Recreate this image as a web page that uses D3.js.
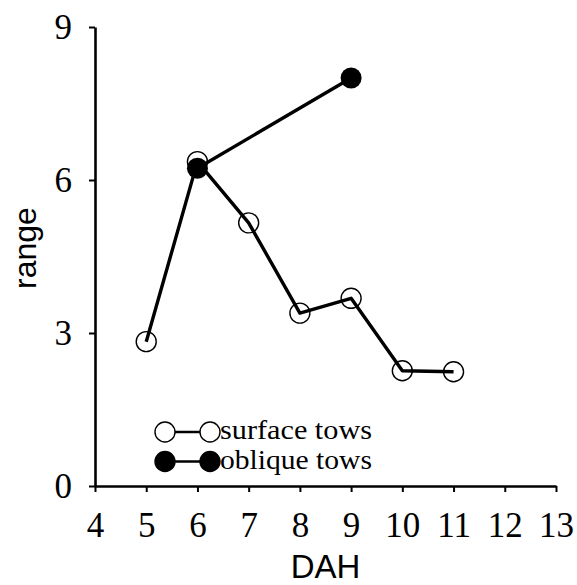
<!DOCTYPE html>
<html>
<head>
<meta charset="utf-8">
<script src="https://cdn.jsdelivr.net/npm/d3@7"></script>
<style>
  html, body { margin: 0; padding: 0; background: #fff; }
  svg { display: block; }
</style>
</head>
<body>
<svg id="chart" width="577" height="585"></svg>
<script>
// Range by days after hatching (DAH), surface vs oblique tows
const dah = [5, 6, 7, 8, 9, 10, 11];
const surfaceRange = [2.83, 6.36, 5.16, 3.39, 3.68, 2.26, 2.24];
const obliqueDah = [6, 9];
const obliqueRange = [6.23, 8.0];
const xTicks = [4, 5, 6, 7, 8, 9, 10, 11, 12, 13];
const yTicks = [0, 3, 6, 9];
const legendLabels = ["surface tows", "oblique tows"];

const svg = d3.select("#chart");
const x = d3.scaleLinear().domain([4, 13]).range([95, 556]);
const y = d3.scaleLinear().domain([0, 9]).range([486, 27]);

const serif = "'Liberation Serif', 'Times New Roman', serif";
const sans = "'Liberation Sans', Arial, sans-serif";

// Axes
const xAxis = svg.append("g")
  .attr("transform", `translate(0,${y(0)})`)
  .call(d3.axisBottom(x).tickValues(xTicks).tickSizeInner(6).tickSizeOuter(0).tickPadding(20));
const yAxis = svg.append("g")
  .attr("transform", `translate(${x(4)},0)`)
  .call(d3.axisLeft(y).tickValues(yTicks).tickSizeInner(6).tickSizeOuter(0).tickPadding(17));

[xAxis, yAxis].forEach(g => {
  g.select(".domain").attr("stroke", "#000").attr("stroke-width", 2.6);
  g.selectAll(".tick line").attr("stroke", "#000").attr("stroke-width", 2);
  g.selectAll(".tick text")
    .attr("fill", "#000")
    .style("font-family", serif)
    .style("font-size", "35px");
});
xAxis.selectAll(".tick text").attr("dy", "0.71em");
yAxis.selectAll(".tick text").attr("dy", "0.34em");

// Axis titles
svg.append("text")
  .attr("x", x(8.5)).attr("y", 578)
  .attr("text-anchor", "middle")
  .style("font-family", sans).style("font-size", "33px")
  .attr("fill", "#000")
  .text("DAH");
svg.append("text")
  .attr("transform", `translate(36,248) rotate(-90)`)
  .attr("text-anchor", "middle")
  .style("font-family", sans).style("font-size", "32px")
  .attr("fill", "#000")
  .text("range");

// Lines
const line = d3.line().x(d => x(d[0])).y(d => y(d[1]));
const surface = dah.map((d, i) => [d, surfaceRange[i]]);
const oblique = obliqueDah.map((d, i) => [d, obliqueRange[i]]);

svg.append("path").datum(surface)
  .attr("d", line).attr("fill", "none")
  .attr("stroke", "#000").attr("stroke-width", 3.4).attr("stroke-linejoin", "round");
svg.selectAll("circle.surface").data(surface).join("circle")
  .attr("class", "surface")
  .attr("cx", d => x(d[0])).attr("cy", d => y(d[1])).attr("r", 10)
  .attr("fill", "none").attr("stroke", "#000").attr("stroke-width", 1.4);

svg.append("path").datum(oblique)
  .attr("d", line).attr("fill", "none")
  .attr("stroke", "#000").attr("stroke-width", 3.4);
svg.selectAll("circle.oblique").data(oblique).join("circle")
  .attr("class", "oblique")
  .attr("cx", d => x(d[0])).attr("cy", d => y(d[1])).attr("r", 10.5)
  .attr("fill", "#000");

// Legend
const legend = svg.append("g");
const legY = [432, 461.5];
const lx1 = 165, lx2 = 210;
legendLabels.forEach((label, i) => {
  const filled = i === 1;
  legend.append("line")
    .attr("x1", lx1).attr("x2", lx2).attr("y1", legY[i]).attr("y2", legY[i])
    .attr("stroke", "#000").attr("stroke-width", 2.6);
  [lx1, lx2].forEach(cx => {
    legend.append("circle")
      .attr("cx", cx).attr("cy", legY[i]).attr("r", 10)
      .attr("fill", filled ? "#000" : "#fff")
      .attr("stroke", "#000").attr("stroke-width", 1.4);
  });
  legend.append("text")
    .attr("x", 220).attr("y", legY[i] + 7)
    .style("font-family", serif).style("font-size", "28px")
    .attr("fill", "#000")
    .attr("textLength", 152).attr("lengthAdjust", "spacingAndGlyphs")
    .text(label);
});
</script>
</body>
</html>
